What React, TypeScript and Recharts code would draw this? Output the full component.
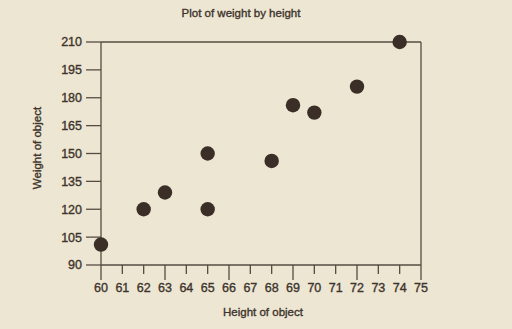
import React from 'react';
import { ScatterChart, Scatter, XAxis, YAxis, ReferenceLine } from 'recharts';

const heights = [60, 62, 63, 65, 65, 68, 69, 70, 72, 74];
const weights = [101, 120, 129, 150, 120, 146, 176, 172, 186, 210];
const xTicks = [60, 61, 62, 63, 64, 65, 66, 67, 68, 69, 70, 71, 72, 73, 74, 75];
const yTicks = [90, 105, 120, 135, 150, 165, 180, 195, 210];
const majorX = [60, 63, 66, 69, 72, 75];

const data = heights.map((h, i) => ({ h, w: weights[i] }));

const BG = '#ece6d2';
const INK = '#3e342d';
const LINE = '#574b42';
const FONT = '"Liberation Sans", Arial, sans-serif';
const TXT = { fill: INK, fontFamily: FONT, stroke: INK, strokeWidth: 0.35 };

const XTick = (props: any) => {
  const { x, y, payload } = props;
  const major = majorX.includes(payload.value);
  return (
    <g>
      <line x1={x} y1={y} x2={x} y2={y + (major ? 15 : 9)} stroke={LINE} strokeWidth={1.3} />
      <text x={x} y={y + 27} textAnchor="middle" fontSize={12.5} {...TXT}>
        {payload.value}
      </text>
    </g>
  );
};

const Dot = (props: any) => (
  <circle cx={props.cx} cy={props.cy} r={7.2} fill="#3a2e26" />
);

export default function App() {
  return (
    <div style={{ position: 'absolute', left: 0, top: 0, width: 512, height: 329, background: BG }}>
      <ScatterChart width={512} height={329} margin={{ top: 42, right: 91, bottom: 0, left: 0 }}>
        <XAxis
          type="number"
          dataKey="h"
          domain={[60, 75]}
          ticks={xTicks}
          interval={0}
          tickSize={0}
          tickMargin={0}
          tickLine={false}
          tick={<XTick />}
          axisLine={{ stroke: LINE, strokeWidth: 1.3 }}
          height={64}
        />
        <YAxis
          type="number"
          dataKey="w"
          domain={[90, 210]}
          ticks={yTicks}
          interval={0}
          width={101}
          tickSize={15}
          tickMargin={4}
          tickLine={{ stroke: LINE, strokeWidth: 1.3 }}
          axisLine={{ stroke: LINE, strokeWidth: 1.3 }}
          tick={{ ...TXT, fontSize: 12.5 }}
        />
        <ReferenceLine y={210} stroke={LINE} strokeWidth={1.3} />
        <ReferenceLine x={75} stroke={LINE} strokeWidth={1.3} />
        <Scatter data={data} shape={<Dot />} isAnimationActive={false} />
        <text x={241} y={17} textAnchor="middle" fontSize={11.5} {...TXT}>
          Plot of weight by height
        </text>
        <text x={263} y={316} textAnchor="middle" fontSize={11.5} {...TXT}>
          Height of object
        </text>
        <text
          x={37}
          y={148}
          textAnchor="middle"
          fontSize={11.5}
          {...TXT}
          transform="rotate(-90 37 148)"
          dominantBaseline="central"
        >
          Weight of object
        </text>
      </ScatterChart>
    </div>
  );
}
